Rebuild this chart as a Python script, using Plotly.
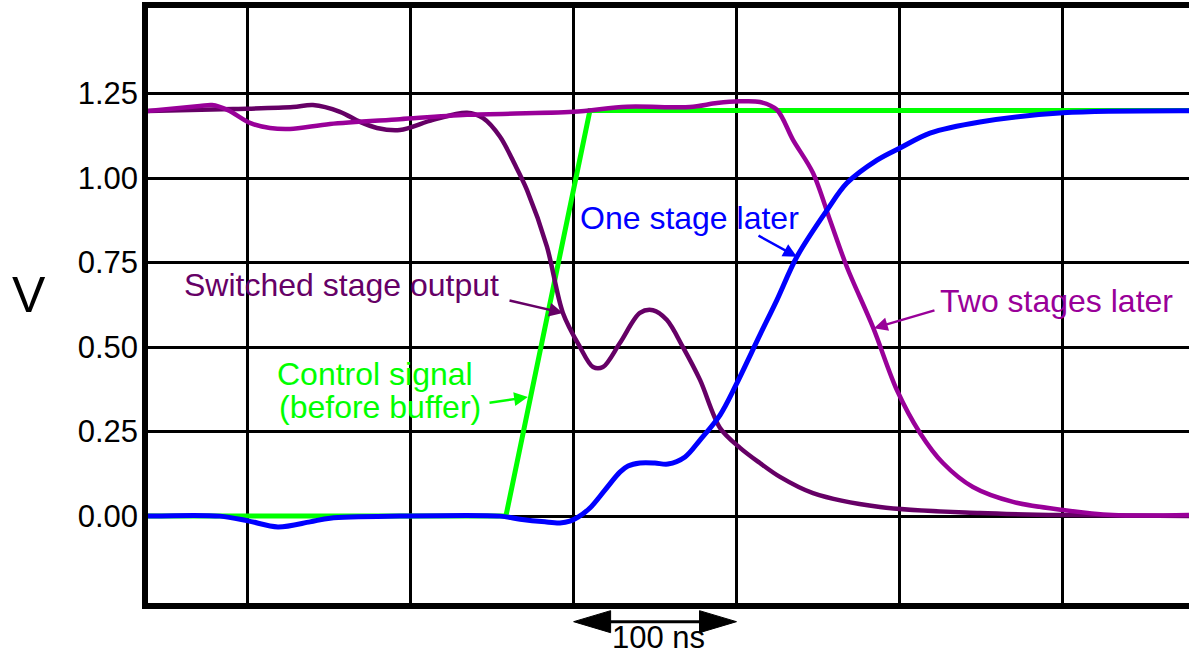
import plotly.graph_objects as go

# ---- data (time in ns, voltage in V) ----
control_t = [-61.4, 158.4, 210.0, 577.9]
control_v = [0.0, 0.0, 1.2, 1.2]

switched_t = [-61.4, -9.2, 27.6, 39.9, 56.5, 68.8, 79.2, 93.3, 113.6, 134.5, 144.4, 154.8,
              164.0, 171.3, 183.6, 193.4, 203.9, 211.9, 218.0, 228.4, 240.7, 248.7, 257.3,
              267.1, 277.6, 289.9, 302.2, 314.4, 326.7, 347.0, 388.1, 449.5, 500.5, 577.9]
switched_v = [1.198, 1.204, 1.210, 1.216, 1.196, 1.166, 1.148, 1.142, 1.172, 1.193, 1.177, 1.122,
              1.039, 0.965, 0.797, 0.601, 0.500, 0.441, 0.441, 0.512, 0.601, 0.609, 0.580,
              0.500, 0.403, 0.261, 0.202, 0.157, 0.116, 0.068, 0.027, 0.009, 0.003, 0.000]

one_t = [-61.4, -17.2, 0.0, 18.4, 38.1, 50.4, 93.3, 154.8, 167.1, 182.4, 191.6, 197.7, 202.7,
         210.0, 219.2, 228.4, 233.4, 240.7, 249.9, 257.9, 268.4, 277.6, 289.9, 299.7, 314.4,
         324.8, 337.1, 355.6, 367.8, 386.3, 400.4, 418.8, 449.5, 500.5, 577.9]
one_v = [0.0, 0.0, -0.014, -0.032, -0.017, -0.006, 0.0, 0.0, -0.009, -0.017, -0.020, -0.015, -0.003,
         0.024, 0.077, 0.130, 0.148, 0.157, 0.157, 0.154, 0.175, 0.225, 0.299, 0.388, 0.536,
         0.639, 0.767, 0.905, 0.985, 1.053, 1.089, 1.133, 1.166, 1.193, 1.199]

two_t = [-61.4, -29.5, -22.1, -12.3, 1.2, 13.5, 25.8, 50.4, 93.3, 134.5, 199.6, 232.7, 271.4,
         288.0, 302.1, 314.4, 324.8, 334.7, 347.0, 357.4, 367.8, 383.8, 398.5, 412.7, 426.8,
         445.2, 469.8, 500.5, 531.2, 577.9]
two_v = [1.198, 1.213, 1.216, 1.201, 1.163, 1.148, 1.145, 1.160, 1.174, 1.187, 1.196, 1.211, 1.210,
         1.222, 1.227, 1.225, 1.202, 1.113, 1.015, 0.876, 0.737, 0.559, 0.373, 0.246, 0.157,
         0.086, 0.042, 0.018, 0.003, 0.003]

y_ticks = [0.0, 0.25, 0.5, 0.75, 1.0, 1.25]
x_grid = [0, 100, 200, 300, 400, 500]
scale_start, scale_len = 200, 100

C_GREEN = "#00ff00"
C_BLUE = "#0000ff"
C_DARK = "#660066"
C_PURPLE = "#990099"
FONT = "Liberation Sans, Arial, sans-serif"

fig = go.Figure()
fig.add_trace(go.Scatter(x=control_t, y=control_v, mode="lines",
                         line=dict(color=C_GREEN, width=5)))
fig.add_trace(go.Scatter(x=switched_t, y=switched_v, mode="lines",
                         line=dict(color=C_DARK, width=4.5, shape="spline", smoothing=0.9)))
fig.add_trace(go.Scatter(x=two_t, y=two_v, mode="lines",
                         line=dict(color=C_PURPLE, width=4.5, shape="spline", smoothing=0.9)))
fig.add_trace(go.Scatter(x=one_t, y=one_v, mode="lines",
                         line=dict(color=C_BLUE, width=5, shape="spline", smoothing=0.9)))

annos = []
def label(text, x, y, color, size=32):
    annos.append(dict(text=text, x=x, y=y, xref="x", yref="y", showarrow=False,
                      font=dict(family=FONT, size=size, color=color),
                      xanchor="center", yanchor="middle"))

def arrow(tail, tip, color):
    annos.append(dict(text="", x=tip[0], y=tip[1], ax=tail[0], ay=tail[1],
                      xref="x", yref="y", axref="x", ayref="y", showarrow=True,
                      arrowhead=2, arrowsize=1.1, arrowwidth=2.5, arrowcolor=color))

label("Switched stage output", 57.6, 0.684, C_DARK)
arrow((159.7, 0.639), (193.4, 0.601), C_DARK)
label("Control signal", 78.0, 0.421, C_GREEN)
label("(before buffer)", 81.0, 0.323, C_GREEN)
arrow((147.4, 0.335), (171.9, 0.352), C_GREEN)
label("One stage later", 271.1, 0.883, C_BLUE)
arrow((312.6, 0.832), (337.1, 0.767), C_BLUE)
label("Two stages later", 496.8, 0.636, C_PURPLE)
arrow((422.5, 0.610), (384.4, 0.556), C_PURPLE)

annos.append(dict(text="V", xref="paper", yref="y", x=-0.114, y=0.655, showarrow=False,
                  font=dict(family=FONT, size=50, color="black"),
                  xanchor="center", yanchor="middle"))
annos.append(dict(text="100 ns", xref="x", yref="paper", x=scale_start + scale_len / 2 + 2,
                  y=-0.0588, showarrow=False, font=dict(family=FONT, size=31, color="black"),
                  xanchor="center", yanchor="middle"))

# scale bar (double-headed arrow) below the axis
yb, hh, hl = -0.0314, 0.0185, 22.7
x0, x1 = scale_start, scale_start + scale_len
shapes = [
    dict(type="line", xref="x", yref="paper", x0=x0 + hl, x1=x1 - hl, y0=yb, y1=yb,
         line=dict(color="black", width=3)),
    dict(type="path", xref="x", yref="paper",
         path=f"M {x0},{yb} L {x0 + hl},{yb + hh} L {x0 + hl},{yb - hh} Z",
         fillcolor="black", line=dict(color="black", width=1)),
    dict(type="path", xref="x", yref="paper",
         path=f"M {x1},{yb} L {x1 - hl},{yb + hh} L {x1 - hl},{yb - hh} Z",
         fillcolor="black", line=dict(color="black", width=1)),
]

fig.update_layout(
    width=1189, height=655,
    margin=dict(l=148, r=0, t=8, b=52),
    paper_bgcolor="white", plot_bgcolor="white",
    showlegend=False,
    annotations=annos,
    shapes=shapes,
    xaxis=dict(range=[-61.4, 577.9], tickvals=x_grid, showticklabels=False,
               showgrid=True, gridcolor="black", gridwidth=2.5, zeroline=False,
               showline=True, linecolor="black", linewidth=5.5, mirror=True, ticks=""),
    yaxis=dict(range=[-0.257, 1.503], tickvals=y_ticks, tickformat=".2f",
               showgrid=True, gridcolor="black", gridwidth=2.5, zeroline=False,
               showline=True, linecolor="black", linewidth=5.5, mirror=False, ticks="",
               tickfont=dict(family=FONT, size=31, color="black"), ticklabelstandoff=-2),
)

fig.write_html("out.html", config={"displayModeBar": False},
               post_script="document.body.style.margin='0px';document.body.style.overflow='hidden';")
